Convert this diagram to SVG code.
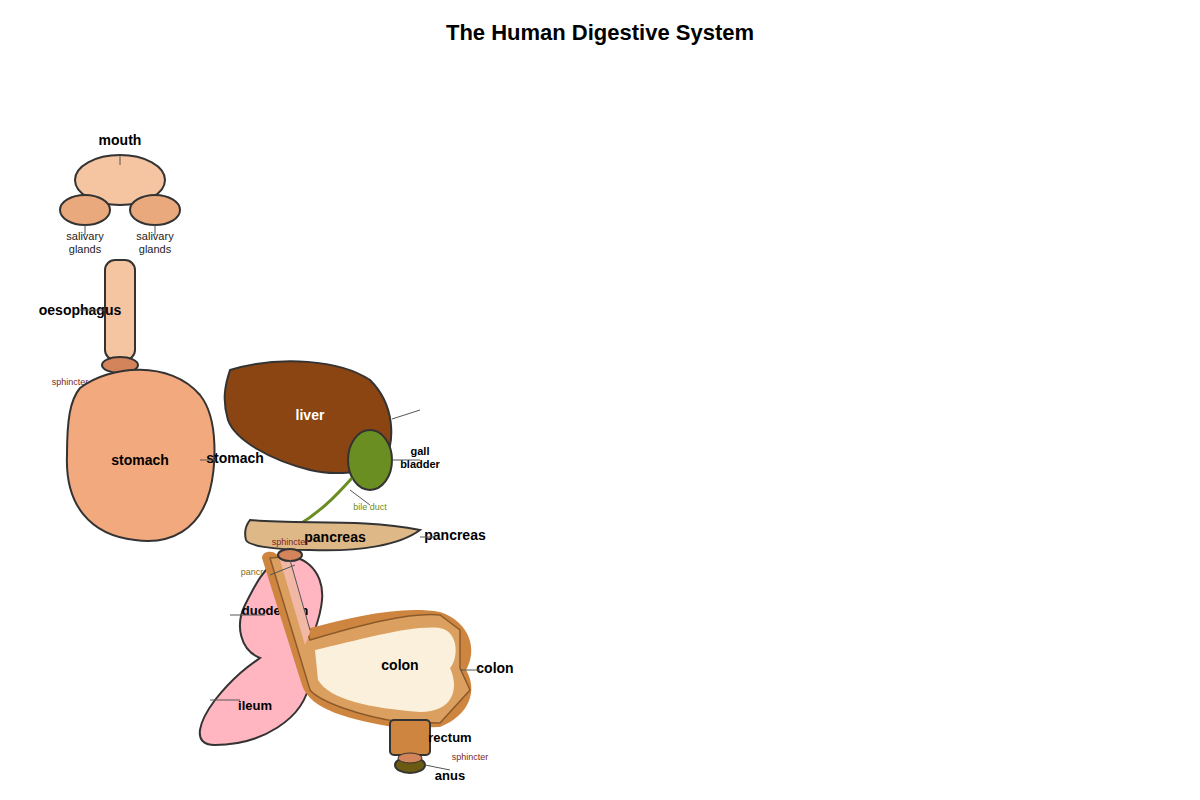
<svg xmlns="http://www.w3.org/2000/svg" width="1200" height="800" viewBox="0 0 1200 800">
<style>
.o{stroke:#333;stroke-width:2}
.b{font-family:"Liberation Sans",Arial,sans-serif;font-weight:bold;font-size:14px;fill:#000;text-anchor:middle}
.s{font-family:"Liberation Sans",Arial,sans-serif;font-size:11px;fill:#222;text-anchor:middle}
.sp{font-family:"Liberation Sans",Arial,sans-serif;font-size:9px;fill:#7a1f1f;text-anchor:middle}
.ln{stroke:#555;stroke-width:1;fill:none}
</style>
<rect width="1200" height="800" fill="#fff"/>
<text x="600" y="40" class="b" style="font-size:22px">The Human Digestive System</text>
<g id="mouth">
<ellipse cx="120" cy="180" rx="45" ry="25" fill="#F5C4A1" class="o"/>
<text x="120" y="145" class="b">mouth</text>
</g>
<g id="salivary-left">
<ellipse cx="85" cy="210" rx="25" ry="15" fill="#E9A97C" class="o"/>
<text x="85" y="240" class="s">salivary</text><text x="85" y="253" class="s">glands</text>
</g>
<g id="salivary-right">
<ellipse cx="155" cy="210" rx="25" ry="15" fill="#E9A97C" class="o"/>
<text x="155" y="240" class="s">salivary</text><text x="155" y="253" class="s">glands</text>
</g>
<g id="oesophagus">
<rect x="105" y="260" width="30" height="100" rx="10" fill="#F5C4A1" class="o"/>
<text x="80" y="315" class="b">oesophagus</text>
</g>
<g id="sphincter1">
<ellipse cx="120" cy="365" rx="18" ry="8" fill="#D4845A" class="o"/>
<text x="70" y="385" class="sp">sphincter</text>
</g>
<g id="stomach">
<path d="M80,388 C110,365 170,360 200,395 C220,420 215,470 210,490 C200,530 170,545 135,540 C90,535 65,505 67,455 C67,420 70,400 80,388 Z" fill="#F2A97E" class="o"/>
<text x="140" y="465" class="b">stomach</text>
<text x="235" y="463" class="b">stomach</text>
</g>
<g id="liver">
<path d="M230,370 C280,355 340,360 370,380 C395,405 395,440 385,460 C370,475 330,475 310,470 C270,460 235,440 228,420 C222,400 225,385 230,370 Z" fill="#8B4513" class="o"/>
<text x="310" y="420" class="b" style="fill:#fff">liver</text>
</g>
<g id="gallbladder">
<ellipse cx="370" cy="460" rx="22" ry="30" fill="#6B8E23" class="o"/>
<text x="420" y="455" class="b" style="font-size:11px">gall</text>
<text x="420" y="468" class="b" style="font-size:11px">bladder</text>
</g>
<g id="bileduct">
<path d="M352,478 C335,497 320,512 297,526" stroke="#6B8E23" stroke-width="3" fill="none"/>
<text x="370" y="510" class="s" style="font-size:9px;fill:#6B8E23">bile duct</text>
</g>
<g id="pancreas">
<path d="M250,520 C300,525 360,518 420,530 C400,545 360,552 310,550 C270,550 248,545 246,540 C244,532 246,525 250,520 Z" fill="#DEB887" class="o"/>
<text x="335" y="542" class="b">pancreas</text>
<text x="455" y="540" class="b">pancreas</text>
</g>
<g id="duodenum">
<path d="M280,560 C300,550 325,570 322,600 C320,630 300,650 310,680 C305,720 260,745 215,745 C190,745 200,720 215,700 C235,675 250,665 260,658 C240,650 235,625 245,605 C255,585 265,565 280,560 Z" fill="#FFB6C1" class="o"/>
<text x="275" y="615" class="b" style="font-size:13px">duodenum</text>
<text x="255" y="710" class="b" style="font-size:13px">ileum</text>
</g>
<g id="colon">
<path d="M262,558 C262,550 275,550 278,556 L310,628 C350,618 400,605 440,612 C470,622 478,650 466,670 C478,690 470,715 440,727 L400,728 C350,720 310,710 302,685 Z" fill="#CD853F"/>
<path d="M270,558 L282,557 L310,640 C360,625 410,612 440,615 L460,630 L460,668 L470,690 L440,723 L400,722 C360,716 320,702 310,690 Z" fill="#DBA060" stroke="#8B5A2B" stroke-width="1.5"/>
<path d="M280,560 L290,558 L310,632 L305,645 Z" fill="#F2B8A6"/>
<path d="M315,650 C360,640 410,625 440,628 C460,632 458,660 450,668 C460,690 452,712 420,712 C370,708 330,700 318,680 Z" fill="#FAF0DC"/>
<text x="400" y="670" class="b">colon</text>
<text x="495" y="673" class="b">colon</text>
</g>
<g id="sphincter2">
<ellipse cx="290" cy="555" rx="12" ry="6" fill="#D4845A" class="o" stroke-width="1.5"/>
<text x="290" y="545" class="sp">sphincter</text>
<text x="252" y="575" class="sp" style="fill:#8B6914">pancr</text>
</g>
<g id="rectum">
<rect x="390" y="720" width="40" height="35" rx="4" fill="#CD853F" class="o"/>
<text x="450" y="742" class="b" style="font-size:13px">rectum</text>
</g>
<g id="anus">
<ellipse cx="410" cy="765" rx="15" ry="8" fill="#6B5A12" class="o"/>
<ellipse cx="410" cy="758" rx="12" ry="5" fill="#D4845A" stroke="#333" stroke-width="1"/>
<text x="470" y="760" class="sp">sphincter</text>
<text x="450" y="780" class="b" style="font-size:13px">anus</text>
</g>
<g id="connectors">
<path class="ln" d="M120,155 V165 M85,225 V235 M155,225 V235 M80,310 H105 M200,460 H215 M392,419 L420,410 M392,460 H420 M350,490 L370,505 M420,537 H435 M270,575 L295,565 M290,560 L310,630 M230,615 H265 M210,700 H240 M460,670 H480 M425,765 L450,770"/>
</g>
</svg>
